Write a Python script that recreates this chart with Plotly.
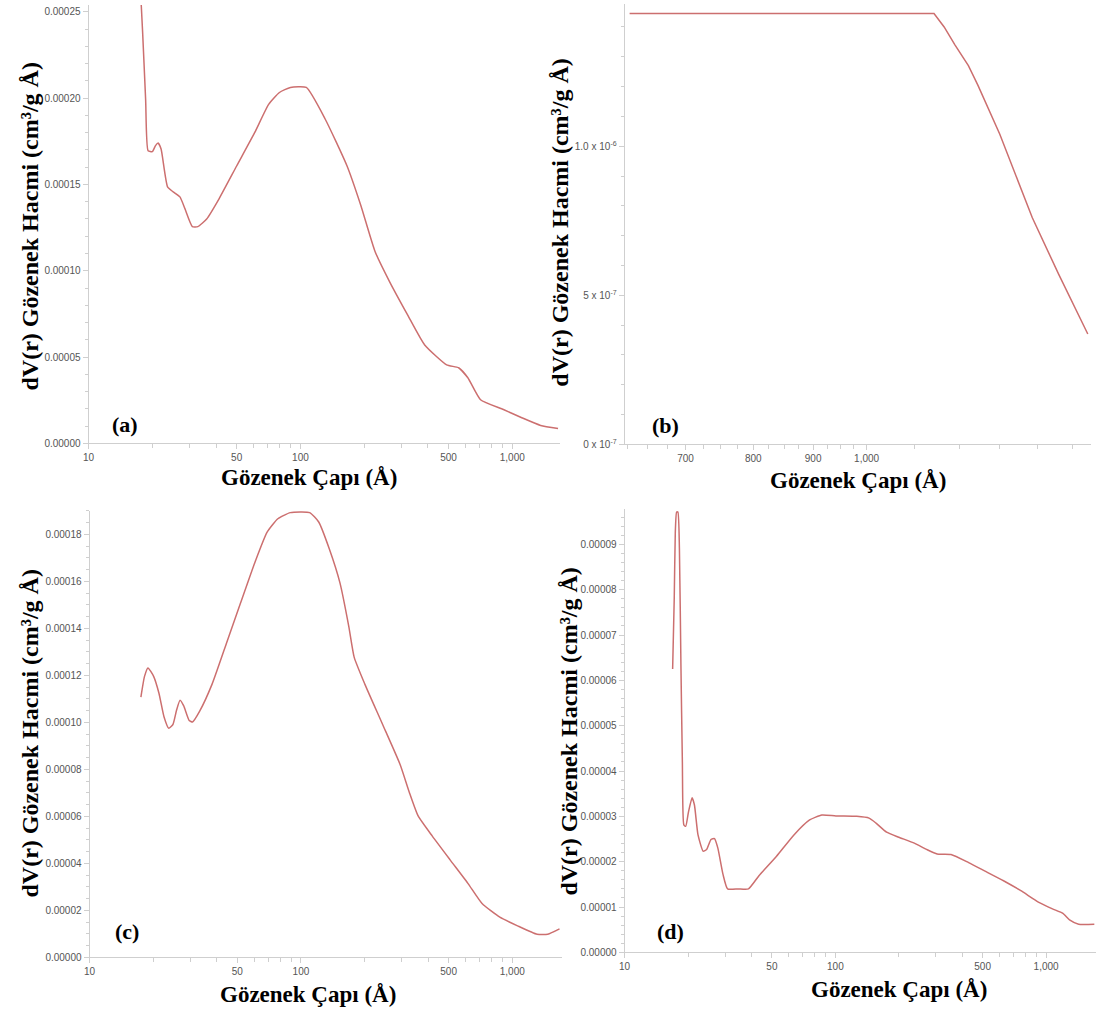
import plotly.graph_objects as go

# ---------------- data ----------------
# (a)
a_x = [17.3, 18.0, 18.6, 19.1, 20.0, 20.7, 21.3, 22.0, 23.6, 25.1, 27.0, 28.5, 30.9, 32.8, 36.1, 41.3,
       50.0, 60.8, 70.8, 79.6, 89.7, 106.6, 131, 166, 193, 225, 263, 321, 386, 490, 558, 617, 708,
       908, 1102, 1361, 1644]
a_y = [0.00028, 0.000238, 0.000199, 0.0001695, 0.000169, 0.0001725, 0.000174, 0.0001705, 0.0001486,
       0.0001457, 0.0001428, 0.000136, 0.0001256, 0.0001256, 0.000130, 0.0001417, 0.0001607, 0.00018,
       0.0001964, 0.0002033, 0.0002062, 0.0002062, 0.0001878, 0.0001607, 0.0001377, 0.0001112,
       0.0000939, 0.0000743, 0.000057, 0.0000455, 0.0000438, 0.000038, 0.0000253, 0.0000196,
       0.000015, 0.0000104, 0.0000086]
# (b)
b_x = [627, 700, 800, 900, 1000, 1100, 1142, 1165, 1190, 1222, 1245, 1300, 1386, 1460, 1546]
b_y = [1.445e-6, 1.445e-6, 1.445e-6, 1.445e-6, 1.445e-6, 1.445e-6, 1.445e-6, 1.40e-6, 1.34e-6,
       1.27e-6, 1.205e-6, 1.04e-6, 0.76e-6, 0.57e-6, 0.37e-6]
# (c)
c_x = [17.5, 18.2, 18.9, 20.1, 21.3, 22.5, 23.7, 24.8, 25.8, 26.8, 27.9, 29.6, 30.7, 33.2, 38.0, 44.4,
       51.8, 60.5, 69.2, 77.8, 89.1, 110, 121.4, 136.3, 153, 168.6, 178.6, 200.6, 243.6, 295.5,
       325.6, 358.6, 418.5, 508, 616.6, 719.5, 873, 1059, 1311, 1472, 1673]
c_y = [0.0001108, 0.0001196, 0.0001232, 0.0001196, 0.0001124, 0.0001024, 0.0000975, 0.0000991,
       0.0001052, 0.0001094, 0.000107, 0.0001008, 0.0001002, 0.0001048, 0.0001163, 0.0001336,
       0.0001508, 0.000168, 0.000181, 0.0001867, 0.0001893, 0.0001893, 0.0001853, 0.0001738,
       0.0001594, 0.0001407, 0.0001278, 0.0001163, 0.0000991, 0.0000818, 0.0000703, 0.0000602,
       0.0000516, 0.0000415, 0.0000315, 0.0000229, 0.0000171, 0.0000134, 0.0000098, 0.0000098,
       0.0000121]
# (d)
d_x = [16.9, 17.2, 17.4, 17.65, 17.9, 18.2, 18.5, 18.8, 19.1, 19.5, 20.1, 20.9, 21.45, 22.3, 23.6,
       24.5, 25.7, 26.7, 27.7, 29.3, 30.8, 34.6, 38.7, 43.4, 52.6, 63.6, 75.5, 86.3, 100.6, 126.4,
       144.5, 156, 175, 200, 237, 271, 304, 354, 429, 519, 628, 759, 919, 1072, 1202, 1298, 1427,
       1694]
d_y = [6.25e-5, 7.81e-5, 9.26e-5, 9.71e-5, 9.71e-5, 8.9e-5, 6.36e-5, 4.19e-5, 2.81e-5, 2.78e-5,
       3.1e-5, 3.41e-5, 3.25e-5, 2.59e-5, 2.23e-5, 2.27e-5, 2.49e-5, 2.51e-5, 2.3e-5, 1.72e-5,
       1.4e-5, 1.4e-5, 1.4e-5, 1.69e-5, 2.12e-5, 2.59e-5, 2.92e-5, 3.03e-5, 3.01e-5, 3.0e-5,
       2.96e-5, 2.85e-5, 2.65e-5, 2.54e-5, 2.41e-5, 2.27e-5, 2.17e-5, 2.16e-5, 1.98e-5, 1.78e-5,
       1.58e-5, 1.36e-5, 1.11e-5, 9.6e-6, 8.6e-6, 7.1e-6, 6.2e-6, 6.2e-6]

log_tickvals = [10, 50, 100, 500, 1000]
log_ticktext = ["10", "50", "100", "500", "1,000"]
log_minor = [20, 30, 40, 60, 70, 80, 90, 200, 300, 400, 600, 700, 800, 900, 2000]

b_tickvals = [700, 800, 900, 1000]
b_ticktext = ["700", "800", "900", "1,000"]
b_minor = [625, 650, 675, 725, 750, 775, 825, 850, 875, 925, 950, 975, 1100, 1200, 1300, 1400, 1500]

a_yticks = [0, 0.00005, 0.0001, 0.00015, 0.0002, 0.00025]
c_yticks = [0, 0.00002, 0.00004, 0.00006, 0.00008, 0.0001, 0.00012, 0.00014, 0.00016, 0.00018]
d_yticks = [0, 0.00001, 0.00002, 0.00003, 0.00004, 0.00005, 0.00006, 0.00007, 0.00008, 0.00009]
b_yticks = [0, 5e-7, 1e-6]
b_yticktext = ["0 x 10<sup>-7</sup>", "5 x 10<sup>-7</sup>", "1.0 x 10<sup>-6</sup>"]

ytitle = "dV(r) Gözenek Hacmi (cm³/g Å)"
xtitle = "Gözenek Çapı (Å)"
panel_labels = ["(a)", "(b)", "(c)", "(d)"]

# ---------------- layout helpers ----------------
W, H = 1101, 1018
LINE = "#cc6f6f"
AX = "#cfcfcf"
TICKFONT = dict(family="Arial, Liberation Sans, sans-serif", size=10, color="#555555")
SERIF = "Liberation Serif, Times New Roman, serif"
YTITLEFONT = dict(family=SERIF, size=24, color="#000000")
XTITLEFONT = dict(family=SERIF, size=23, color="#000000")


def xdom(l, r):
    return [l / W, r / W]


def ydom(t, b):
    return [1 - b / H, 1 - t / H]


fig = go.Figure()
shapes = ["spline", "linear", "spline", "spline"]
for i, (xs, ys) in enumerate([(a_x, a_y), (b_x, b_y), (c_x, c_y), (d_x, d_y)]):
    n = "" if i == 0 else str(i + 1)
    line = dict(color=LINE, width=1.5, shape=shapes[i])
    if shapes[i] == "spline":
        line["smoothing"] = 0.5
    fig.add_trace(go.Scatter(x=xs, y=ys, mode="lines", xaxis="x" + n, yaxis="y" + n,
                             line=line, showlegend=False, hoverinfo="skip"))

common_x = dict(type="log", showline=True, linecolor=AX, linewidth=1, ticks="outside", ticklen=5,
                tickcolor=AX, showgrid=False, zeroline=False, tickfont=TICKFONT)
common_y = dict(showline=True, linecolor=AX, linewidth=1, ticks="outside", ticklen=5, tickcolor=AX,
                showgrid=False, zeroline=False, tickfont=TICKFONT)

panels = {
    # name: (left, right, top, bottom) in pixels
    "a": (83, 557, 5, 446),
    "b": (622, 1091, 4, 447),
    "c": (84, 559, 514, 963),
    "d": (622, 1096, 512, 958),
}

layout = dict(width=W, height=H, margin=dict(l=0, r=0, t=0, b=0),
              paper_bgcolor="white", plot_bgcolor="white", showlegend=False)

# (a)
l, r, t, b = panels["a"]
layout["xaxis"] = dict(common_x, domain=xdom(l, r), anchor="y", range=[1, 3.225],
                       tickvals=log_tickvals, ticktext=log_ticktext,
                       minor=dict(tickvals=log_minor, ticks="outside", ticklen=4, tickcolor=AX))
layout["yaxis"] = dict(common_y, domain=ydom(t, b), anchor="x", range=[0, 0.000254],
                       tickvals=a_yticks, tickformat=".5f",
                       minor=dict(dtick=0.00001, tick0=0, ticks="outside", ticklen=3, tickcolor=AX))
# (b)
l, r, t, b = panels["b"]
layout["xaxis2"] = dict(common_x, domain=xdom(l, r), anchor="y2", range=[2.793, 3.192],
                        tickvals=b_tickvals, ticktext=b_ticktext,
                        minor=dict(tickvals=b_minor, ticks="outside", ticklen=4, tickcolor=AX))
layout["yaxis2"] = dict(common_y, domain=ydom(t, b), anchor="x2", range=[0, 1.477e-6],
                        tickvals=b_yticks, ticktext=b_yticktext,
                        minor=dict(dtick=1e-7, tick0=0, ticks="outside", ticklen=3, tickcolor=AX))
# (c)
l, r, t, b = panels["c"]
layout["xaxis3"] = dict(common_x, domain=xdom(l, r), anchor="y3", range=[1, 3.235],
                        tickvals=log_tickvals, ticktext=log_ticktext,
                        minor=dict(tickvals=log_minor, ticks="outside", ticklen=4, tickcolor=AX))
layout["yaxis3"] = dict(common_y, domain=ydom(t, b), anchor="x3", range=[0, 0.00019],
                        tickvals=c_yticks, tickformat=".5f",
                        minor=dict(dtick=0.000005, tick0=0, ticks="outside", ticklen=3, tickcolor=AX))
# (d)
l, r, t, b = panels["d"]
layout["xaxis4"] = dict(common_x, domain=xdom(l, r), anchor="y4", range=[1, 3.237],
                        tickvals=log_tickvals, ticktext=log_ticktext,
                        minor=dict(tickvals=log_minor, ticks="outside", ticklen=4, tickcolor=AX))
layout["yaxis4"] = dict(common_y, domain=ydom(t, b), anchor="x4", range=[0, 0.0000978],
                        tickvals=d_yticks, tickformat=".5f",
                        minor=dict(dtick=0.000002, tick0=0, ticks="outside", ticklen=3, tickcolor=AX))

fig.update_layout(**layout)

# titles and panel labels as annotations (pixel positions converted to paper coords)
ytitle_pos = [(24, 228), (557, 224), (24, 738), (566, 736)]
xtitle_pos = [(305, 480), (857, 483), (304, 1000), (898, 995)]
label_pos = [(120, 427), (663, 428), (122, 937), (668, 937)]

for (yx, yy), (xx, xy), (lx, ly), lab in zip(ytitle_pos, xtitle_pos, label_pos, panel_labels):
    fig.add_annotation(x=yx / W, y=1 - yy / H, xref="paper", yref="paper", text="<b>" + ytitle + "</b>",
                       textangle=-90, showarrow=False, xanchor="center", yanchor="middle", font=YTITLEFONT)
    fig.add_annotation(x=xx / W, y=1 - xy / H, xref="paper", yref="paper", text="<b>" + xtitle + "</b>",
                       showarrow=False, xanchor="center", yanchor="middle", font=XTITLEFONT)
    fig.add_annotation(x=lx / W, y=1 - ly / H, xref="paper", yref="paper", text="<b>" + lab + "</b>",
                       showarrow=False, xanchor="center", yanchor="middle",
                       font=dict(family=SERIF, size=22, color="#000000"))

fig.write_html("out.html")
